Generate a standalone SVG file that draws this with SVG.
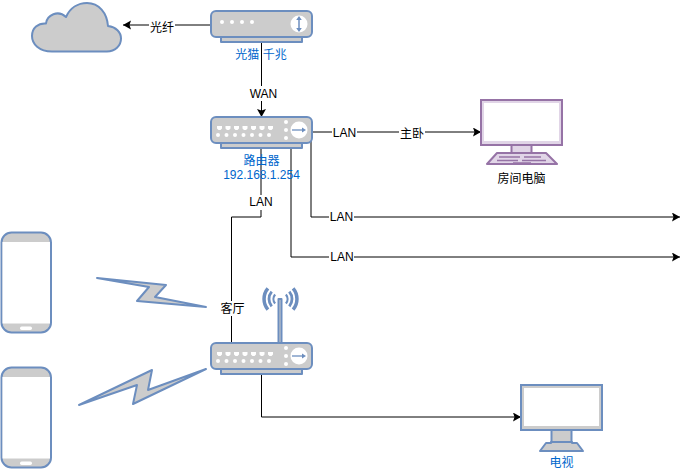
<svg xmlns="http://www.w3.org/2000/svg" width="690" height="471" viewBox="0 0 690 471">
<style>
text{font-family:"Liberation Sans","Noto Sans CJK SC",sans-serif;font-size:12px;text-anchor:middle}
.bl{fill:#0066cc}
.bg{fill:#fff;stroke:none}
.c{fill:none;stroke:#000;stroke-width:1}
.s{fill:#cccccc;stroke:#6c8ebf;stroke-width:2;stroke-linejoin:round}
.p{fill:#e1d5e7;stroke:#9673a6;stroke-width:2;stroke-linejoin:round}
.w{fill:#fff;stroke:none}
.arc{fill:none;stroke:#6c8ebf}
</style>
<defs>
<marker id="ar" markerWidth="10" markerHeight="10" refX="8" refY="4.500" orient="auto" markerUnits="userSpaceOnUse"><path d="M0 0L8 4.500L0 9L1.500 4.500Z" fill="#000"/></marker>
<g id="ports">
<path class="w" d="M6 4h5v2.500l-1.500 1.500h-2l-1.500-1.500zM14.500 4h5v2.500l-1.500 1.500h-2l-1.500-1.500zM23 4h5v2.500l-1.500 1.500h-2l-1.500-1.500zM31.500 4h5v2.500l-1.500 1.500h-2l-1.500-1.500zM40 4h5v2.500l-1.500 1.500h-2l-1.500-1.500zM48.500 4h5v2.500l-1.500 1.500h-2l-1.500-1.500zM57 4h5v2.500l-1.500 1.500h-2l-1.500-1.500z" transform="translate(0,5)"/>
<g class="w"><circle cx="7" cy="18" r="2"/><circle cx="15.500" cy="18" r="2"/><circle cx="24" cy="18" r="2"/><circle cx="32.500" cy="18" r="2"/><circle cx="41" cy="18" r="2"/><circle cx="49.500" cy="18" r="2"/><circle cx="58" cy="18" r="2"/><circle cx="75" cy="5" r="2"/><circle cx="75" cy="13" r="2"/><circle cx="75" cy="21" r="2"/></g>
<circle class="w" cx="88" cy="13" r="8.500"/>
<path d="M81 13h11" stroke="#6c8ebf" stroke-width="1.300"/><path d="M95 13l-4-2.500v5z" fill="#6c8ebf"/>
</g>
<g id="sw"><rect class="s" x="10" y="26" width="81" height="5"/><rect class="s" x="0" y="0" width="101" height="26" rx="5"/><use href="#ports"/></g>
<g id="phone"><rect x="1.500" y="0.500" width="49.500" height="100" rx="10" fill="#ccc" stroke="#6c8ebf" stroke-width="2"/><rect x="2.500" y="10" width="47.500" height="81.500" fill="#fff"/><rect x="20" y="94.500" width="12" height="3.500" rx="1.700" fill="#fff"/></g>
</defs>
<g id="connectors">
<path class="c" d="M211 25H123" marker-end="url(#ar)"/>
<path class="c" d="M261.500 42V117" marker-end="url(#ar)"/>
<path class="c" d="M311 132H481" marker-end="url(#ar)"/>
<path class="c" d="M311 132V217H680" marker-end="url(#ar)"/>
<path class="c" d="M291 148V257H680" marker-end="url(#ar)"/>
<path class="c" d="M261 148V217H231.500V343"/>
<path class="c" d="M261.500 373V417H521" marker-end="url(#ar)"/>
<rect class="bg" x="149" y="18" width="26" height="15"/><text x="162" y="32">光纤</text>
<rect class="bg" x="249" y="86" width="29" height="15"/><text x="263.500" y="98">WAN</text>
<rect class="bg" x="332" y="125" width="25" height="15"/><text x="344.500" y="137">LAN</text>
<rect class="bg" x="399" y="125" width="26" height="15"/><text x="412" y="138">主卧</text>
<rect class="bg" x="329" y="210" width="25" height="15"/><text x="341.500" y="221">LAN</text>
<rect class="bg" x="329" y="250" width="25" height="15"/><text x="342" y="261">LAN</text>
<rect class="bg" x="249" y="195" width="25" height="15"/><text x="261" y="206">LAN</text>
<rect class="bg" x="219" y="301" width="26" height="15"/><text x="232.500" y="313">客厅</text>
</g>
<g id="cloud"><path class="s" d="M52 51.500C39 51.500 32 44 32 36C32 28 38 23 46 23.500C47 15 58 9.500 66 17C70 8 78 3 87 3C99 3 107 13 108 26C116 27 121 32 121 38.500C121 46 115 51.500 107 51.500Z"/></g>
<g id="modem">
<rect class="s" x="221" y="37" width="81" height="5"/><rect class="s" x="211" y="11" width="101" height="26" rx="5"/>
<g class="w"><circle cx="222" cy="22" r="2"/><circle cx="232" cy="22" r="2"/><circle cx="242" cy="22" r="2"/><circle cx="252" cy="22" r="2"/><circle cx="299" cy="24" r="8.500"/></g>
<path d="M299 18v12" stroke="#6c8ebf" stroke-width="1.500"/><path d="M299 16l-2.800 4h5.600zM299 32l-2.800-4h5.600z" fill="#6c8ebf"/>
<text class="bl" x="261" y="59">光猫 千兆</text>
</g>
<g id="router"><use href="#sw" x="211" y="117"/><text class="bl" x="261.500" y="165">路由器</text><text class="bl" x="261.500" y="179">192.168.1.254</text></g>
<g id="pc">
<rect x="481" y="100" width="81" height="45" fill="#e1d5e7" stroke="#9673a6" stroke-width="2"/><rect x="484" y="103" width="75" height="38" fill="#fff"/>
<rect class="p" x="511.500" y="145" width="20" height="8"/>
<path class="p" d="M497 153H546L557 164H487Z"/>
<path d="M499 157H520M524 157H541M497 160.500H518M522 160.500H546M513 163H531" stroke="#9673a6" stroke-width="1.300" fill="none"/>
<text x="521.500" y="183" fill="#000">房间电脑</text>
</g>
<g id="phone1"><use href="#phone" y="232"/></g>
<g id="phone2"><use href="#phone" y="367"/></g>
<g id="bolt1"><path class="s" d="M97 278L166 285L155 297L206 307L137 301L149 287Z"/></g>
<g id="bolt2"><path class="s" d="M79 405L152 370L148 390L206 369L133 404L137 385Z"/></g>
<g id="wifi">
<rect class="s" x="278.500" y="299" width="3" height="44"/>
<path class="arc" stroke-width="3.500" d="M267.900 288.400A16.500 16.500 0 0 0 267.900 309.600M293.100 288.400A16.500 16.500 0 0 1 293.100 309.600"/>
<path class="arc" stroke-width="2.800" d="M271.700 291.600A11.500 11.500 0 0 0 271.700 306.400M289.300 291.600A11.500 11.500 0 0 1 289.300 306.400"/>
<path class="arc" stroke-width="2.200" d="M275.100 294.500A7 7 0 0 0 275.100 303.500M285.900 294.500A7 7 0 0 1 285.900 303.500"/>
<use href="#sw" x="211" y="343"/>
</g>
<g id="tv">
<rect x="521" y="385" width="81" height="45" fill="#ccc" stroke="#6c8ebf" stroke-width="2"/><rect x="524" y="388" width="75" height="38" fill="#fff"/>
<rect class="s" x="551.500" y="430" width="20" height="13"/>
<path class="s" d="M551 443V442H572V443H577L583 451H540L546 443Z"/>
<text class="bl" x="561.500" y="467">电视</text>
</g>
</svg>
